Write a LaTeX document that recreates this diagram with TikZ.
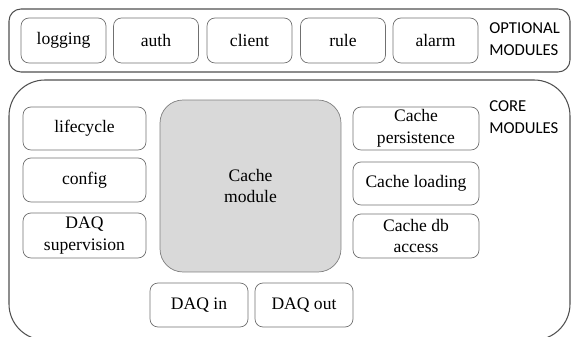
\documentclass[tikz,border=0pt]{standalone}
\usepackage{fontspec}
\setmainfont{Liberation Serif}
\newfontfamily\modfont{Liberation Serif}
\newfontfamily\capfont{Carlito}
\definecolor{boxgray}{HTML}{707070}
\definecolor{framegray}{HTML}{505050}
\definecolor{cachefill}{HTML}{D9D9D9}
\tikzset{
    modbox/.style={draw=boxgray, rounded corners=0.16cm, align=center,
        inner sep=0pt, font=\modfont\fontsize{10}{12.5}\selectfont},
    frame/.style={draw=framegray, line width=0.6pt},
    caption/.style={anchor=west, align=left, inner sep=0pt,
        font=\capfont\fontsize{9.5}{12.5}\selectfont}
}
\begin{document}
\begin{tikzpicture}[x=0.02cm, y=-0.02cm]
        \useasboundingbox (0,0) rectangle (571,337);
        % frames
        \draw[frame, rounded corners=0.24cm] (9,9) rectangle (570,72);
        \draw[frame, rounded corners=0.72cm] (9,80) rectangle (570,340);
        \node[caption] (optcap) at (489,39) {OPTIONAL\\MODULES};
        \node[caption] (corecap) at (489,117) {CORE\\MODULES};
        % optional modules
        \foreach \x/\n in {63.5/logging,156/auth,249.5/client,343/rule,435.5/alarm} {
            \node[modbox, minimum width=1.7cm, minimum height=0.9cm] (\n) at (\x,40.5) {\n};
        }
        % core modules
        \node[modbox, minimum width=2.46cm, minimum height=0.86cm] (lifecycle) at (84.5,128.5) {lifecycle};
        \node[modbox, minimum width=2.46cm, minimum height=0.88cm] (config) at (84.5,180) {config};
        \node[modbox, minimum width=2.46cm, minimum height=0.9cm] (daqsup) at (84.5,235.5) {DAQ\\supervision};
        \node[modbox, fill=cachefill, draw=gray, rounded corners=0.46cm,
            minimum width=3.62cm, minimum height=3.44cm] (cache) at (250.5,186) {Cache\\module};
        \node[modbox, minimum width=2.52cm, minimum height=0.86cm] (cachepers) at (416,128.5) {Cache\\persistence};
        \node[modbox, minimum width=2.52cm, minimum height=0.86cm] (cacheload) at (416,183.5) {Cache loading};
        \node[modbox, minimum width=2.52cm, minimum height=0.88cm] (cachedb) at (416,236) {Cache db\\access};
        \node[modbox, minimum width=1.96cm, minimum height=0.88cm] (daqin) at (199,305) {DAQ in};
        \node[modbox, minimum width=1.96cm, minimum height=0.88cm] (daqout) at (304,305) {DAQ out};
\end{tikzpicture}
\end{document}
